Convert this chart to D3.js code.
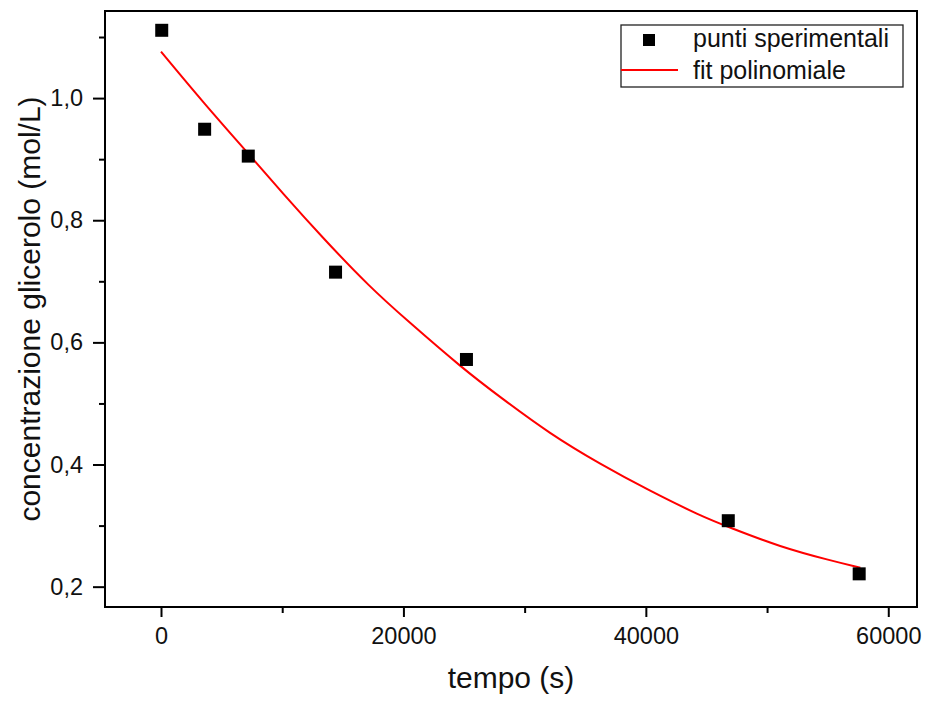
<!doctype html>
<html lang="it">
  <head>
    <meta charset="utf-8">
    <title>Concentrazione glicerolo</title>
    <script src="https://d3js.org/d3.v7.min.js"></script>
    <style>
      body { margin: 0; background: #fff; }
      text { font-family: "Liberation Sans", Arial, sans-serif; fill: #111; }
    </style>
  </head>
  <body>
    <div id="chart"></div>
    <script>
      // punti sperimentali
      const tempo = [60, 3600, 7200, 14400, 25200, 46800, 57600];
      const conc  = [1.111, 0.949, 0.905, 0.715, 0.572, 0.308, 0.221];

      // fit polinomiale
      const fitTempo = [0, 3600, 7300, 10000, 13400, 17200, 20300, 24900, 28000, 32100, 36200, 40300, 44500, 46900, 51100, 55200, 57700];
      const fitConc  = [1.076, 0.990, 0.907, 0.845, 0.770, 0.691, 0.636, 0.557, 0.510, 0.450, 0.401, 0.357, 0.316, 0.297, 0.265, 0.243, 0.231];

      const xMajor = [0, 20000, 40000, 60000];
      const xMinor = [10000, 30000, 50000];
      const yMajor = [0.2, 0.4, 0.6, 0.8, 1.0];
      const yMinor = [0.3, 0.5, 0.7, 0.9, 1.1];

      const w = 927, h = 704;
      const pLeft = 105, pRight = 917, pTop = 11, pBottom = 607;

      const svg = d3.select('#chart')
                    .append('svg')
                    .attr('width', w)
                    .attr('height', h);

      const x = d3.scaleLinear().domain([-4620, 62370]).range([pLeft, pRight]);
      const y = d3.scaleLinear().domain([0.1667, 1.1426]).range([pBottom, pTop]);

      const fmt = d => d3.format('.1f')(d).replace('.', ',');

      // assi
      svg.append('g').attr('transform', `translate(0,${pBottom})`)
        .call(d3.axisBottom(x).tickValues(xMajor).tickSize(10).tickPadding(10).tickFormat(d3.format('d')));
      svg.append('g').attr('transform', `translate(0,${pBottom})`)
        .call(d3.axisBottom(x).tickValues(xMinor).tickSize(6).tickFormat(''));
      svg.append('g').attr('transform', `translate(${pLeft},0)`)
        .call(d3.axisLeft(y).tickValues(yMajor).tickSize(12).tickPadding(10).tickFormat(fmt));
      svg.append('g').attr('transform', `translate(${pLeft},0)`)
        .call(d3.axisLeft(y).tickValues(yMinor).tickSize(6).tickFormat(''));

      svg.selectAll('.domain').remove();
      svg.selectAll('.tick line').attr('stroke', '#000').attr('stroke-width', 2);
      svg.selectAll('.tick text').style('font-size', '23.5px').style('font-family', '"Liberation Sans", Arial, sans-serif').attr('fill', '#111');

      // cornice
      svg.append('rect')
        .attr('x', pLeft).attr('y', pTop)
        .attr('width', pRight - pLeft).attr('height', pBottom - pTop)
        .attr('fill', 'none').attr('stroke', '#000').attr('stroke-width', 2);

      // curva di fit
      const line = d3.line()
        .x((d, i) => x(fitTempo[i]))
        .y(d => y(d))
        .curve(d3.curveBasis);

      svg.append('path')
        .datum(fitConc)
        .attr('d', line)
        .attr('fill', 'none')
        .attr('stroke', '#ff0000')
        .attr('stroke-width', 2);

      // punti
      const s = 13;
      svg.selectAll('.punto')
        .data(conc)
        .enter()
        .append('rect')
        .attr('class', 'punto')
        .attr('x', (d, i) => x(tempo[i]) - s / 2)
        .attr('y', d => y(d) - s / 2)
        .attr('width', s)
        .attr('height', s)
        .attr('fill', '#000');

      // legenda
      const lg = svg.append('g');
      lg.append('rect')
        .attr('x', 621).attr('y', 25).attr('width', 282).attr('height', 62)
        .attr('fill', '#fff').attr('stroke', '#222').attr('stroke-width', 1.3);
      lg.append('rect')
        .attr('x', 649 - 6).attr('y', 40 - 6).attr('width', 12).attr('height', 12)
        .attr('fill', '#000');
      lg.append('line')
        .attr('x1', 621).attr('x2', 678).attr('y1', 70).attr('y2', 70)
        .attr('stroke', '#ff0000').attr('stroke-width', 2);
      lg.append('text').attr('x', 693).attr('y', 47)
        .style('font-size', '25px').text('punti sperimentali');
      lg.append('text').attr('x', 693).attr('y', 79)
        .style('font-size', '25px').text('fit polinomiale');

      // titoli
      svg.append('text')
        .attr('x', (pLeft + pRight) / 2).attr('y', 688)
        .attr('text-anchor', 'middle')
        .style('font-size', '30px')
        .text('tempo (s)');

      svg.append('text')
        .attr('transform', `translate(40,${(pTop + pBottom) / 2}) rotate(-90)`)
        .attr('text-anchor', 'middle')
        .style('font-size', '30px')
        .text('concentrazione glicerolo (mol/L)');
    </script>
  </body>
</html>
